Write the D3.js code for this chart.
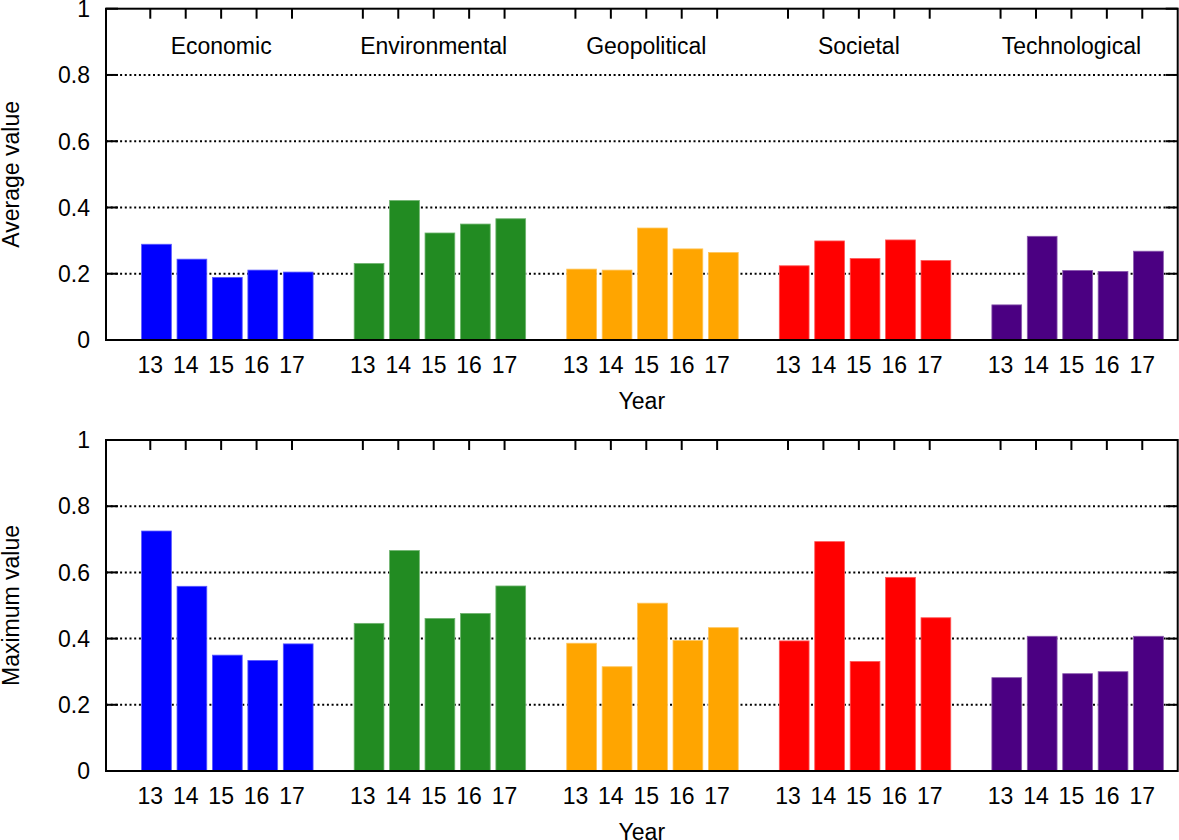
<!DOCTYPE html>
<html>
<head>
<meta charset="utf-8">
<script src="https://cdn.jsdelivr.net/npm/d3@7"></script>
<style>
  html, body { margin: 0; padding: 0; background: #fff; }
  svg { display: block; }
  text { font-family: "Liberation Sans", Arial, sans-serif; fill: #000; }
</style>
</head>
<body>
<svg id="chart" width="1179" height="840"></svg>
<script>
// ---- data ----
const categories = ["Economic", "Environmental", "Geopolitical", "Societal", "Technological"];
const years = ["13", "14", "15", "16", "17"];
const colors = ["#0000ff", "#228b22", "#ffa500", "#ff0000", "#4b0082"];

const averageValues = {
  Economic:      [0.289, 0.244, 0.189, 0.211, 0.205],
  Environmental: [0.231, 0.421, 0.323, 0.350, 0.366],
  Geopolitical:  [0.214, 0.211, 0.338, 0.275, 0.264],
  Societal:      [0.224, 0.299, 0.246, 0.302, 0.240],
  Technological: [0.106, 0.313, 0.210, 0.207, 0.268]
};
const maximumValues = {
  Economic:      [0.725, 0.558, 0.350, 0.334, 0.384],
  Environmental: [0.446, 0.666, 0.461, 0.476, 0.559],
  Geopolitical:  [0.386, 0.315, 0.507, 0.394, 0.433],
  Societal:      [0.393, 0.693, 0.331, 0.585, 0.463],
  Technological: [0.282, 0.407, 0.294, 0.300, 0.407]
};
const yTicks = [0, 0.2, 0.4, 0.6, 0.8, 1];
const yTickLabels = ["0", "0.2", "0.4", "0.6", "0.8", "1"];
const xTitle = "Year";
const panelTitles = ["Average value", "Maximum value"];

// ---- layout ----
const svg = d3.select("#chart");
const left = 106, right = 1177.7;
const panels = [
  { values: averageValues, top: 8.7, bottom: 340, title: panelTitles[0], showCats: true },
  { values: maximumValues, top: 440, bottom: 771, title: panelTitles[1], showCats: false }
];
const slotsPerGroup = years.length + 1;
const x = d3.scaleLinear().domain([-1.25, slotsPerGroup * (categories.length - 1) + years.length]).range([left, right]);
const slot = x(1) - x(0);
const barOffset = 0.175, barWidth = 0.84;

panels.forEach(p => {
  const y = d3.scaleLinear().domain([0, 1]).range([p.bottom, p.top]);
  const g = svg.append("g");

  // grid lines (dotted)
  g.append("g").selectAll("line").data(yTicks.filter(t => t > 0 && t < 1)).join("line")
    .attr("x1", left).attr("x2", right)
    .attr("y1", d => y(d)).attr("y2", d => y(d))
    .attr("stroke", "#000").attr("stroke-width", 2)
    .attr("stroke-dasharray", "2,2.7");

  // bars
  const rows = [];
  categories.forEach((c, ci) => {
    p.values[c].forEach((v, yi) => rows.push({ c, ci, yi, v, pos: ci * slotsPerGroup + yi }));
  });
  g.append("g").selectAll("rect").data(rows).join("rect")
    .attr("x", d => x(d.pos + barOffset) - barWidth * slot / 2)
    .attr("width", barWidth * slot)
    .attr("y", d => y(d.v))
    .attr("height", d => y(0) - y(d.v))
    .attr("fill", d => colors[d.ci])
    .attr("stroke", d => d3.interpolateRgb(colors[d.ci], "#fff")(0.35))
    .attr("stroke-width", 0.8);

  // frame
  g.append("rect").attr("x", left).attr("y", p.top)
    .attr("width", right - left).attr("height", p.bottom - p.top)
    .attr("fill", "none").attr("stroke", "#000").attr("stroke-width", 2);

  // y ticks (left & right, inward)
  g.append("g").selectAll("line.l").data(yTicks).join("line")
    .attr("x1", left).attr("x2", left + 12)
    .attr("y1", d => y(d)).attr("y2", d => y(d))
    .attr("stroke", "#000").attr("stroke-width", 2);
  g.append("g").selectAll("line.r").data(yTicks).join("line")
    .attr("x1", right - 12).attr("x2", right)
    .attr("y1", d => y(d)).attr("y2", d => y(d))
    .attr("stroke", "#000").attr("stroke-width", 2);

  // y tick labels
  g.append("g").selectAll("text").data(yTicks).join("text")
    .attr("x", 90).attr("y", d => y(d)).attr("dy", "0.36em")
    .attr("text-anchor", "end").style("font-size", "23px")
    .text((d, i) => yTickLabels[i]);

  // top mirror ticks
  g.append("g").selectAll("line").data(rows).join("line")
    .attr("x1", d => x(d.pos)).attr("x2", d => x(d.pos))
    .attr("y1", p.top).attr("y2", p.top + 10)
    .attr("stroke", "#000").attr("stroke-width", 2);

  // x tick labels
  g.append("g").selectAll("text").data(rows).join("text")
    .attr("x", d => x(d.pos)).attr("y", p.bottom + 33)
    .attr("text-anchor", "middle").style("font-size", "23px")
    .text(d => years[d.yi]);

  // x title
  g.append("text").attr("x", (left + right) / 2).attr("y", p.bottom + 68.5)
    .attr("text-anchor", "middle").style("font-size", "23px").text(xTitle);

  // y title
  g.append("text")
    .attr("transform", `translate(19,${(p.top + p.bottom) / 2}) rotate(-90)`)
    .attr("text-anchor", "middle").style("font-size", "23px").text(p.title);

  // category labels
  if (p.showCats) {
    g.append("g").selectAll("text").data(categories).join("text")
      .attr("x", (d, i) => x(i * slotsPerGroup + (years.length - 1) / 2))
      .attr("y", y(0.863))
      .attr("text-anchor", "middle").style("font-size", "23px")
      .text(d => d);
  }
});
</script>
</body>
</html>
